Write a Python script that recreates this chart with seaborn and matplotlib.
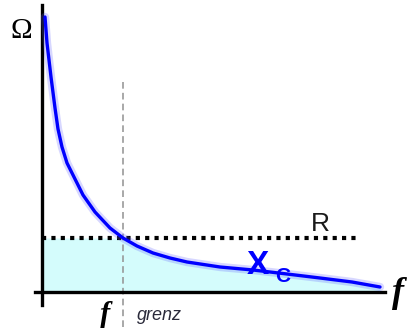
import numpy as np
import matplotlib
matplotlib.use('Agg')
import matplotlib.pyplot as plt
import seaborn as sns

# values (pixel-like units, origin at the axes corner)
freq = [3, 5, 9, 13, 16, 20, 25, 33, 41, 53, 68, 81, 95, 111, 128, 145,
        178, 211, 245, 278, 310, 338]
xc = [275, 249, 215, 184, 163, 145, 129, 113, 97, 80, 64, 54, 46, 39, 34, 30,
      25, 22, 18, 14, 10, 5]
r_value = 54
f_grenz = 81

sns.set_style('white')

fig = plt.figure(figsize=(4.13, 3.28), dpi=100)
ax = fig.add_axes([0, 0, 1, 1])
ax.set_xlim(-42, 371)
ax.set_ylim(-36, 292)

# shaded area under min(Xc, R)
fill_x = [0] + freq
fill_y = np.minimum([r_value] + xc, r_value)
ax.fill_between(fill_x, 0, fill_y, color='#d4fcfc', lw=0, zorder=1)

# R line
ax.plot([0, freq[-1] - 22], [r_value, r_value], color='black', lw=3,
        linestyle=(0, (1, 1.25)), dash_capstyle='butt', zorder=3)

# f_grenz marker
ax.plot([f_grenz, f_grenz], [210, -36], color='#999999', lw=1.2,
        linestyle=(0, (4, 2.5)), zorder=2)

# Xc curve with a soft glow
sns.lineplot(x=freq, y=xc, ax=ax, color='#6060ff', lw=6, alpha=0.25,
             sort=False, zorder=4)
sns.lineplot(x=freq, y=xc, ax=ax, color='#0000ff', lw=2.4, sort=False, zorder=5)

# axes
for side in ['top', 'right']:
    ax.spines[side].set_visible(False)
ax.spines['left'].set_position(('data', 0))
ax.spines['bottom'].set_position(('data', 0))
ax.spines['left'].set_bounds(-13, 287)
ax.spines['bottom'].set_bounds(-7, 343)
for side in ['left', 'bottom']:
    ax.spines[side].set_linewidth(2.4)
    ax.spines[side].set_color('black')
ax.set_xticks([])
ax.set_yticks([])
ax.patch.set_alpha(0)

# labels
ax.text(-21, 261, 'Ω', fontsize=21, family='Liberation Serif',
        ha='center', va='center', color='black')
ax.text(278, 68, 'R', fontsize=19, family='Liberation Sans',
        ha='center', va='center', color='#1a1a1a')
ax.text(216, 27, 'X', fontsize=24, family='Liberation Sans',
        weight='bold', ha='center', va='center', color='#0000ff', zorder=6)
ax.text(241, 16, 'C', fontsize=15, family='Liberation Sans', weight='bold',
        ha='center', va='center', color='#0000ff', zorder=6)
ax.text(356, -2, 'f', fontsize=26, family='Liberation Serif', weight='bold',
        style='italic', ha='center', va='center', color='black')
ax.text(63, -23, 'f', fontsize=22, family='Liberation Serif', weight='bold',
        style='italic', ha='center', va='center', color='black')
ax.text(117, -24, 'grenz', fontsize=13, family='Liberation Sans',
        style='italic', ha='center', va='center', color='#2a2a3a')

fig.savefig('out.png', dpi=100)
